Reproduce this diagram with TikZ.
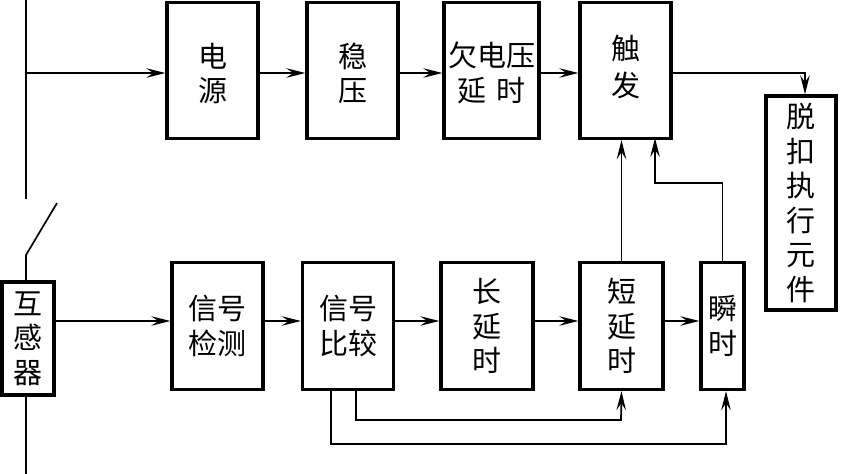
\documentclass[tikz,border=0pt]{standalone}
\usepackage{fontspec}
\setmainfont{Noto Sans CJK SC}
\usetikzlibrary{arrows.meta,calc}
\newcommand{\dropline}{\rule{0pt}{30pt}}

\begin{document}
\begin{tikzpicture}[
    x=1pt, y=-1pt,
    box/.style={draw, line width=3.4pt, inner sep=0pt, align=center, font=\fontsize{29}{34.5}\selectfont},
    arrow/.style={-{Stealth[length=19pt, width=9.5pt, inset=7pt]}, line width=1.7pt},
    line/.style={line width=1.7pt}
]
\useasboundingbox (0,0) rectangle (841,474);

% Upper row
\node[box, minimum width=91pt, minimum height=136pt] (power) at (212.5,70.5) {\dropline 电\\源};
\node[box, minimum width=91pt, minimum height=136pt] (stab) at (352.5,70.5) {\dropline 稳\\压};
\node[box, minimum width=95pt, minimum height=136pt] (under) at (491.5,70.5) {\dropline 欠电压\\延\hspace{0.35em}时};
\node[box, minimum width=91pt, minimum height=136pt] (trig) at (625.5,70.5) {触\\[2pt]发\rule[-9pt]{0pt}{1pt}};

% Release element
\node[box, minimum width=70pt, minimum height=214pt] (release) at (801,203) {脱\\扣\\执\\行\\元\\件};

% Lower row
\node[box, minimum width=52pt, minimum height=113pt] (ct) at (28,338.5) {互\\感\\器};
\node[box, minimum width=91pt, minimum height=127pt] (detect) at (217.5,326) {信号\\检测};
\node[box, minimum width=91pt, minimum height=127pt] (comp) at (348,326) {信号\\比较};
\node[box, minimum width=92pt, minimum height=127pt] (longd) at (487,326) {长\\延\\时};
\node[box, minimum width=83pt, minimum height=127pt] (shortd) at (621.5,326) {短\\延\\时};
\node[box, minimum width=43pt, minimum height=127pt] (inst) at (722.5,326) {瞬\\时};

% Main line and switch
\coordinate (top) at (26,0);
\coordinate (gap) at (26,199);
\coordinate (swa) at (26,255);
\coordinate (swb) at (57,203);
\coordinate (bottom) at (26,474);
\coordinate (tap) at (26,73);
\coordinate (low) at (0,321);

\draw[line] (top) -- (gap);
\draw[line] (swb) -- (swa) -- (swa |- ct.north);
\draw[line] (ct.south -| bottom) -- (bottom);

% Upper arrows
\draw[arrow] (tap) -- (tap -| power.west);
\draw[arrow] (power.east |- tap) -- (tap -| stab.west);
\draw[arrow] (stab.east |- tap) -- (tap -| under.west);
\draw[arrow] (under.east |- tap) -- (tap -| trig.west);
\draw[arrow] (trig.east |- tap) -| ([xshift=4pt]release.north);

% Lower arrows
\draw[arrow] (ct.east |- low) -- (detect.west |- low);
\draw[arrow] (detect.east |- low) -- (comp.west |- low);
\draw[arrow] (comp.east |- low) -- (longd.west |- low);
\draw[arrow] (longd.east |- low) -- (shortd.west |- low);
\draw[arrow] (shortd.east |- low) -- (inst.west |- low);

% Into trigger
\draw[arrow] (shortd.north) -- (shortd.north |- trig.south);
\draw[arrow] (inst.north) |- (655,183) -- (655,138);

% Feedback from comparator
\draw[arrow] ([xshift=8pt]comp.south) |- (621,420) -- (shortd.south);
\draw[arrow] ([xshift=-17pt]comp.south) |- (726,444) -- ([xshift=3.5pt]inst.south);

\end{tikzpicture}
\end{document}
